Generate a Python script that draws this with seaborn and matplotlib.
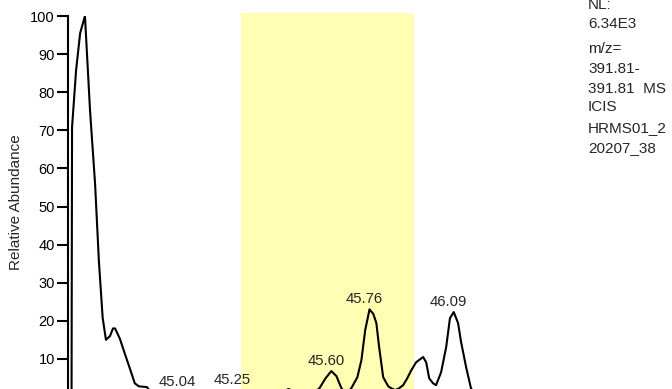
import matplotlib
matplotlib.use("Agg")
import matplotlib.pyplot as plt
import seaborn as sns
import pandas as pd

# Chromatogram trace (retention time in min, relative abundance in %)
time_min = [44.579, 44.581, 44.597, 44.613, 44.632, 44.652, 44.672, 44.687, 44.702,
            44.715, 44.731, 44.743, 44.751, 44.770, 44.790, 44.810, 44.829, 44.845,
            44.877, 44.896, 44.956, 45.019, 45.074, 45.153, 45.236, 45.310, 45.370,
            45.437, 45.488, 45.535, 45.559, 45.583, 45.606, 45.626, 45.646, 45.665,
            45.685, 45.709, 45.725, 45.740, 45.757, 45.772, 45.784, 45.795, 45.811,
            45.831, 45.843, 45.859, 45.874, 45.890, 45.906, 45.922, 45.941, 45.969,
            45.981, 45.993, 46.008, 46.020, 46.040, 46.060, 46.075, 46.090, 46.107,
            46.119, 46.139, 46.158, 46.178, 46.277, 46.434]
abundance = [0.0, 70.8, 85.8, 95.5, 100.0, 75.3, 56.0, 35.8, 20.8,
             15.0, 16.0, 18.0, 18.0, 15.3, 11.3, 7.4, 3.6, 2.8,
             2.6, 1.0, 0.5, 1.3, 0.3, 0.5, 1.8, 0.3, 0.0,
             2.1, 0.5, 1.0, 2.3, 4.9, 6.8, 5.5, 2.3, 0.8,
             2.3, 5.2, 9.7, 17.6, 23.0, 21.8, 19.4, 13.1, 5.2,
             2.8, 2.3, 1.8, 2.3, 3.1, 4.9, 7.0, 9.1, 10.5,
             9.1, 4.9, 3.6, 3.1, 6.5, 13.1, 20.7, 22.3, 19.4,
             14.4, 7.8, 2.3, 0.5, 0.3, 0.0]

# Peak labels (apex retention time and abundance)
peak_labels = ["45.04", "45.25", "45.60", "45.76", "46.09"]
peak_time = [45.019, 45.236, 45.606, 45.757, 46.090]
peak_abund = [1.3, 1.8, 6.8, 23.0, 22.3]

# Highlighted retention window
window = (45.247, 45.934)

yticks = [10, 20, 30, 40, 50, 60, 70, 80, 90, 100]
info_lines = ["NL:", "6.34E3", "m/z=", "391.81-", "391.81  MS", "ICIS", "HRMS01_2", "20207_38"]

sns.set_theme(style="white")
plt.rcParams["font.family"] = ["Liberation Sans", "DejaVu Sans"]

W, H = 672, 389
fig = plt.figure(figsize=(W / 100, H / 100), dpi=100)
ax = fig.add_axes([68 / W, 0, (560 - 68) / W, (389 - 16) / H])

ax.axvspan(window[0], window[1], ymin=0, ymax=1.008, color="#ffffb4", lw=0, zorder=0, clip_on=False)

df = pd.DataFrame({"t": time_min, "a": abundance})
sns.lineplot(data=df, x="t", y="a", ax=ax, color="black", lw=1.5, sort=False, estimator=None, zorder=3)

for lab, t, a in zip(peak_labels, peak_time, peak_abund):
    ax.annotate(lab, xy=(t, a), xytext=(-4, 2.5), textcoords="offset points",
                ha="center", va="bottom", fontsize=10.7, annotation_clip=False, zorder=4)

ax.set_xlim(44.565, 46.51)
ax.set_ylim(2.1, 100)
ax.set_yticks(yticks)
ax.set_yticklabels([str(v) for v in yticks], fontsize=10.5)
ax.set_xticks([])
ax.set_xlabel("")
ax.set_ylabel("Relative Abundance", fontsize=11)
ax.yaxis.set_label_coords(-0.0905, 0.5)
ax.tick_params(axis="y", direction="out", length=8, width=1.5, pad=1.5, left=True, colors="black")
for s in ["top", "right", "bottom"]:
    ax.spines[s].set_visible(False)
ax.spines["left"].set_linewidth(1.5)
ax.spines["left"].set_color("black")
ax.patch.set_alpha(0)

ys = [5, 24, 49, 69, 89, 107, 128, 148]
for txt, y in zip(info_lines, ys):
    fig.text(588 / W, 1 - y / H, txt, fontsize=11, ha="left", va="center")

fig.savefig("out.png", dpi=100)
